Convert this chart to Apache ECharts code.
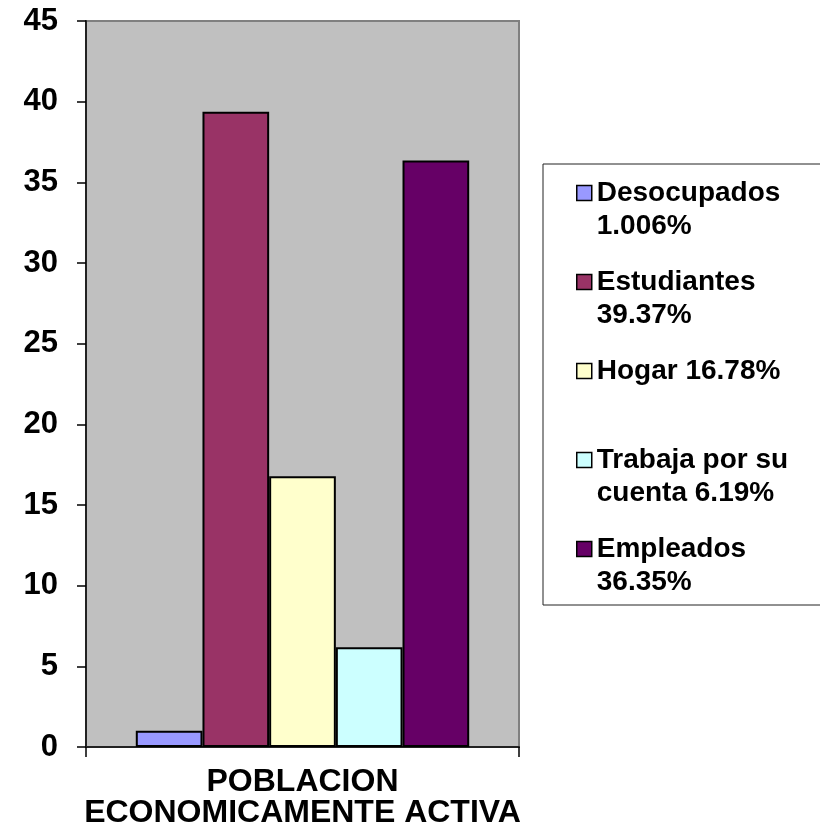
<!DOCTYPE html>
<html>
<head>
<meta charset="utf-8">
<script src="https://cdn.jsdelivr.net/npm/echarts@6/dist/echarts.min.js"></script>
<style>
  html, body { margin: 0; padding: 0; background: #fff; }
  #chart { width: 820px; height: 833px; }
</style>
</head>
<body>
<div id="chart"></div>
<script>
// Población económicamente activa: one category, five groups
const categories = ['POBLACION\nECONOMICAMENTE ACTIVA'];
const groupNames = ['Desocupados', 'Estudiantes', 'Hogar', 'Trabaja por su cuenta', 'Empleados'];
const groupValues = [1.006, 39.37, 16.78, 6.19, 36.35];
const groupColors = ['#9999FF', '#993366', '#FFFFCC', '#CCFFFF', '#660066'];
// Legend wording (value appended as a percentage)
const legendPrefixes = ['Desocupados\n', 'Estudiantes\n', 'Hogar ', 'Trabaja por su\ncuenta ', 'Empleados\n'];
const yTicks = [0, 5, 10, 15, 20, 25, 30, 35, 40, 45];

const FONT = 'Liberation Sans, Arial, sans-serif';
const LINE = 33;

// Each entry is three lines tall with the name on the middle line,
// so the swatch lines up with the first line of the wording.
const legendText = {};
groupNames.forEach((n, i) => {
  let t = legendPrefixes[i] + groupValues[i] + '%';
  if (t.indexOf('\n') < 0) t += '\n ';
  legendText[n] = ' \n' + t;
});

const chart = echarts.init(document.getElementById('chart'), null, { renderer: 'canvas' });

chart.setOption({
  animation: false,
  backgroundColor: '#ffffff',
  grid: {
    left: 86, right: 301, top: 21, bottom: 86,
    show: true,
    backgroundColor: '#C0C0C0',
    borderColor: '#808080',
    borderWidth: 2,
    containLabel: false,
    outerBoundsMode: 'none'
  },
  xAxis: {
    type: 'category',
    data: categories,
    axisLine: { show: true, lineStyle: { color: '#222', width: 2 } },
    axisTick: { show: true, length: 10, interval: 0, lineStyle: { color: '#000', width: 1.5 } },
    axisLabel: {
      margin: 20,
      fontFamily: FONT, fontWeight: 'bold', fontSize: 32, lineHeight: 31,
      color: '#000', align: 'center'
    },
    splitLine: { show: false }
  },
  yAxis: {
    type: 'value',
    min: yTicks[0], max: yTicks[yTicks.length - 1], interval: 5,
    axisLine: { show: true, lineStyle: { color: '#222', width: 2 } },
    axisTick: { show: true, length: 9, lineStyle: { color: '#000', width: 1.5 } },
    axisLabel: {
      margin: 28,
      fontFamily: FONT, fontWeight: 'bold', fontSize: 31, color: '#000'
    },
    splitLine: { show: false }
  },
  legend: {
    orient: 'vertical',
    left: 576, top: 193 - 1.5 * LINE,
    padding: 0,
    itemGap: 89 - 3 * LINE,
    itemWidth: 15, itemHeight: 15,
    icon: 'rect',
    data: groupNames,
    formatter: name => legendText[name],
    itemStyle: { borderColor: '#000', borderWidth: 1.5 },
    textStyle: {
      fontFamily: FONT, fontWeight: 'bold', fontSize: 28, color: '#000',
      lineHeight: LINE
    }
  },
  graphic: [{
    type: 'rect',
    shape: { x: 543, y: 164, width: 290, height: 441 },
    style: { fill: 'none', stroke: '#222', lineWidth: 1 },
    silent: true
  }],
  series: groupNames.map((n, i) => ({
    name: n,
    type: 'bar',
    data: [groupValues[i]],
    barGap: '0%',
    barCategoryGap: '23%',
    itemStyle: { color: groupColors[i], borderColor: '#000', borderWidth: 2 }
  }))
});
</script>
</body>
</html>
